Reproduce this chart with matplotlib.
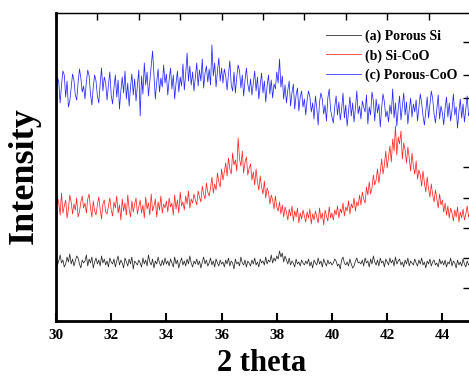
import numpy as np
import matplotlib
matplotlib.use("Agg")
import matplotlib.pyplot as plt

plt.rcParams['font.family'] = ['Liberation Serif', 'DejaVu Serif']
plt.rcParams['font.weight'] = 'bold'

# 2 theta from 30 to 45 deg, step 0.05
two_theta = np.round(np.linspace(30.0, 45.0, 301), 2)

# intensities (a.u.), one row per degree
porous_si = [
    63, 56, 60, 66, 58, 61, 54, 57, 64, 59, 67, 57, 62, 55, 60, 65, 63, 57, 53, 61, 58,
    60, 66, 55, 62, 58, 64, 53, 59, 63, 57, 61, 55, 65, 58, 62, 56, 60, 54, 63, 59,
    57, 62, 54, 60, 65, 56, 61, 58, 53, 63, 59, 55, 62, 57, 64, 52, 60, 58, 56, 61,
    58, 54, 63, 57, 61, 55, 66, 59, 56, 62, 53, 60, 57, 64, 58, 55, 61, 56, 63, 57,
    60, 55, 62, 58, 54, 64, 57, 61, 53, 59, 63, 56, 60, 55, 62, 57, 65, 58, 54, 60,
    57, 62, 56, 60, 53, 59, 64, 57, 61, 55, 58, 63, 56, 60, 54, 62, 58, 55, 61, 57,
    59, 54, 61, 57, 63, 55, 60, 58, 52, 62, 57, 59, 55, 64, 58, 56, 61, 54, 60, 58,
    55, 61, 57, 63, 56, 59, 54, 62, 58, 60, 56, 64, 57, 61, 59, 66, 58, 63, 60, 65,
    62, 70, 64, 68, 59, 65, 61, 57, 63, 56, 60, 58, 54, 62, 57, 59, 55, 61, 58, 56,
    60, 57, 62, 55, 59, 53, 61, 58, 56, 63, 57, 60, 54, 62, 58, 55, 61, 57, 59, 56,
    58, 62, 60, 55, 57, 52, 61, 64, 58, 56, 59, 55, 62, 57, 53, 55, 60, 63, 58, 59,
    57, 61, 55, 63, 58, 60, 54, 62, 57, 65, 59, 56, 61, 55, 63, 58, 60, 54, 62, 59,
    56, 63, 58, 61, 55, 64, 57, 60, 62, 56, 59, 54, 61, 57, 63, 55, 60, 58, 56, 62,
    58, 55, 61, 57, 63, 56, 59, 53, 60, 57, 62, 55, 59, 61, 56, 58, 54, 62, 57, 60,
    56, 61, 54, 59, 57, 63, 55, 60, 58, 53, 61, 56, 59, 55, 62, 57, 54, 60, 56, 58,
]

si_coo = [
    110, 124, 118, 106, 128, 108, 115, 121, 103, 112, 126, 119, 107, 117, 111, 123, 104, 109, 119, 125, 113,
    118, 108, 122, 127, 113, 104, 120, 110, 106, 116, 124, 112, 102, 117, 121, 109, 107, 115, 123, 111,
    105, 119, 113, 125, 108, 116, 101, 122, 110, 118, 106, 126, 112, 104, 120, 109, 117, 123, 107, 114,
    121, 108, 116, 103, 124, 112, 118, 106, 127, 110, 115, 122, 104, 119, 111, 125, 108, 117, 113, 120,
    109, 123, 114, 118, 106, 126, 112, 121, 108, 129, 115, 119, 111, 125, 117, 130, 113, 122, 118, 127,
    121, 116, 130, 124, 119, 135, 127, 122, 138, 129, 125, 133, 144, 128, 137, 131, 148, 139, 134, 152,
    141, 149, 158, 145, 163, 152, 147, 168, 156, 161, 150, 183, 162, 155, 170, 148, 159, 164, 146, 153,
    157, 141, 149, 136, 152, 139, 131, 145, 134, 127, 140, 123, 133, 129, 117, 126, 121, 112, 125, 114,
    110, 119, 107, 116, 104, 114, 109, 101, 112, 105, 115, 100, 110, 104, 113, 98, 108, 102, 111, 105,
    99, 109, 103, 112, 97, 107, 101, 110, 104, 98, 113, 102, 108, 96, 111, 105, 100, 114, 103, 108,
    101, 111, 106, 115, 103, 112, 108, 118, 105, 114, 110, 120, 107, 117, 113, 123, 110, 119, 115, 126,
    116, 129, 122, 118, 134, 126, 139, 127, 133, 146, 136, 141, 152, 138, 149, 162, 147, 156, 170, 153,
    164, 175, 159, 182, 170, 195, 166, 184, 177, 190, 162, 178, 171, 158, 174, 163, 150, 168, 155, 147,
    160, 142, 151, 146, 135, 150, 138, 129, 144, 132, 124, 137, 126, 119, 131, 122, 113, 127, 116, 121,
    109, 118, 106, 115, 103, 113, 108, 100, 111, 104, 114, 99, 109, 103, 112, 101, 107, 115, 104, 109,
]

porous_coo = [
    228, 244, 239, 218, 236, 250, 246, 224, 240, 214, 220, 233, 247, 241, 226, 221, 238, 252, 243, 229, 235,
    222, 239, 251, 245, 227, 216, 234, 246, 240, 225, 218, 237, 253, 230, 244, 238, 221, 236, 249, 226,
    217, 233, 246, 224, 241, 212, 230, 244, 228, 250, 222, 238, 215, 234, 247, 226, 242, 220, 236, 251,
    205, 245, 227, 258, 236, 249, 225, 240, 254, 270, 246, 222, 239, 252, 229, 243, 234, 256, 238, 247,
    226, 241, 253, 232, 246, 222, 238, 250, 229, 244, 235, 257, 231, 247, 268, 240, 255, 236, 249, 230,
    244, 258, 235, 251, 240, 262, 233, 248, 255, 239, 252, 236, 276, 245, 258, 234, 250, 263, 240, 253,
    238, 252, 245, 231, 247, 260, 236, 230, 249, 228, 244, 256, 250, 233, 246, 225, 241, 253, 237, 229,
    242, 226, 238, 250, 230, 244, 222, 236, 248, 228, 240, 219, 235, 246, 227, 241, 223, 237, 232, 249,
    238, 262, 234, 245, 222, 236, 218, 231, 240, 215, 228, 237, 212, 226, 233, 210, 224, 230, 214, 222,
    206, 221, 230, 224, 209, 218, 202, 225, 213, 196, 219, 228, 222, 207, 216, 200, 223, 232, 211, 204,
    198, 214, 225, 206, 219, 201, 212, 228, 203, 216, 195, 210, 224, 205, 218, 199, 213, 230, 207, 215,
    202, 220, 214, 209, 226, 197, 214, 206, 229, 220, 200, 222, 208, 217, 194, 213, 227, 219, 204, 210,
    199, 216, 207, 232, 203, 218, 195, 212, 225, 201, 214, 228, 206, 219, 197, 211, 223, 204, 217, 209,
    221, 200, 213, 227, 218, 205, 196, 210, 224, 203, 216, 230, 222, 207, 198, 212, 226, 202, 215, 208,
    196, 213, 224, 204, 218, 200, 211, 227, 206, 214, 193, 209, 222, 203, 217, 199, 212, 225, 205, 211,
]

labels = ['(a) Porous Si', '(b) Si-CoO', '(c) Porous-CoO']
colors = ['black', 'red', 'blue']

x_ticks = [30, 32, 34, 36, 38, 40, 42, 44]
top_ticks = np.arange(30, 45.1, 1.5)
right_ticks = [33, 63, 93, 123, 154, 223, 246, 279]

fig = plt.figure(figsize=(4.69, 3.79), dpi=100)
ax = fig.add_axes([56 / 469, 58 / 379, 414.5 / 469, 308.5 / 379])

for ys, lab, c in zip([porous_si, si_coo, porous_coo], labels, colors):
    ax.plot(two_theta, ys, color=c, lw=0.55, alpha=0.85, label=lab)

ax.set_xlim(30, 45.02)
ax.set_ylim(0, 308.5)
ax.set_xticks(x_ticks)
ax.set_yticks(right_ticks)
ax.tick_params(axis='x', direction='in', length=6, width=1.5, labelsize=11, pad=6)
ax.tick_params(axis='y', left=False, labelleft=False, right=True,
               direction='in', length=6, width=1.0)
for lbl in ax.get_xticklabels():
    lbl.set_fontweight('bold')

ax.spines['left'].set_linewidth(2)
ax.spines['bottom'].set_linewidth(2)
ax.spines['top'].set_linewidth(1)
ax.spines['right'].set_linewidth(1)

top = ax.twiny()
top.set_xlim(ax.get_xlim())
top.set_xticks(top_ticks)
top.tick_params(axis='x', direction='in', length=5, width=1.0, labeltop=False)

# axis titles placed by hand to match the picture
fig.text(262 / 469, 1 / 379, '2 theta', fontsize=22, fontweight='bold',
         ha='center', va='bottom')
fig.text(24 / 469, 1 - 176 / 379, 'Intensity', fontsize=26, fontweight='bold',
         rotation=90, ha='center', va='center')

ax.legend(loc='upper left', bbox_to_anchor=(326 / 469, 1 - 30 / 379),
          bbox_transform=fig.transFigure, frameon=False,
          prop={'weight': 'bold', 'size': 10}, handlelength=2.5,
          handletextpad=0.3, labelspacing=0.4, borderpad=0, borderaxespad=0)

fig.savefig('out.png', dpi=100)
